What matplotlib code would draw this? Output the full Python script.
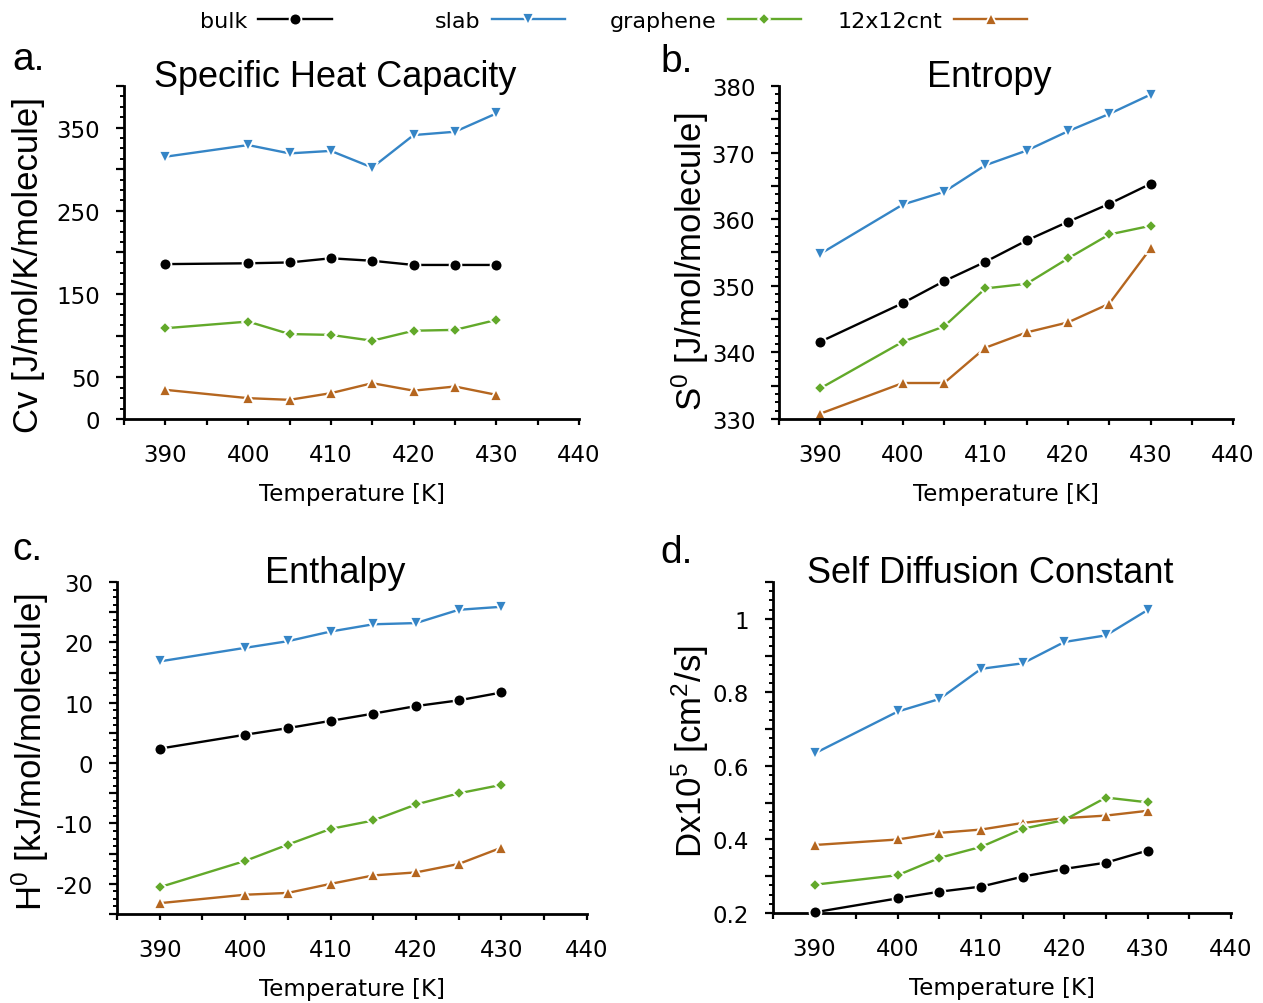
import matplotlib
matplotlib.use("Agg")
import matplotlib.pyplot as plt
from matplotlib.ticker import MultipleLocator, FuncFormatter

plt.rcParams["font.family"] = ["DejaVu Sans"]
plt.rcParams["axes.unicode_minus"] = False
plt.rcParams["mathtext.default"] = "regular"

# ---- data -------------------------------------------------------------
temperature = [390, 400, 405, 410, 415, 420, 425, 430]

cv_bulk = [186, 187, 188, 193, 190, 185, 185, 185]
cv_slab = [315, 329, 319, 322, 302, 341, 345, 367]
cv_graphene = [109, 117, 102, 101, 94, 106, 107, 119]
cv_cnt = [35, 25, 23, 31, 43, 34, 39, 29]

s_bulk = [341.6, 347.4, 350.7, 353.6, 356.8, 359.6, 362.3, 365.3]
s_slab = [354.8, 362.2, 364.1, 368.1, 370.3, 373.2, 375.8, 378.7]
s_graphene = [334.6, 341.6, 343.9, 349.6, 350.3, 354.1, 357.7, 359.0]
s_cnt = [330.8, 335.4, 335.4, 340.7, 343.0, 344.5, 347.3, 355.6]

h_bulk = [2.4, 4.7, 5.8, 7.0, 8.2, 9.45, 10.4, 11.7]
h_slab = [16.85, 19.1, 20.2, 21.8, 23.0, 23.2, 25.4, 25.9]
h_graphene = [-20.55, -16.2, -13.5, -10.9, -9.5, -6.85, -5.0, -3.6]
h_cnt = [-23.2, -21.8, -21.5, -20.0, -18.6, -18.1, -16.7, -14.0]

d_bulk = [0.202, 0.240, 0.258, 0.272, 0.299, 0.320, 0.337, 0.370]
d_slab = [0.634, 0.748, 0.782, 0.864, 0.879, 0.937, 0.955, 1.024]
d_graphene = [0.277, 0.303, 0.350, 0.380, 0.429, 0.453, 0.514, 0.501]
d_cnt = [0.385, 0.400, 0.418, 0.427, 0.445, 0.458, 0.465, 0.478]

series_names = ["bulk", "slab", "graphene", "12x12cnt"]
x_tick_labels = [390, 400, 410, 420, 430, 440]

# ---- styles -------------------------------------------------------------
styles = {
    "bulk": dict(color="#000000", marker="o", ms=8.5, zorder=3),
    "slab": dict(color="#3585c6", marker="v", ms=9, zorder=3),
    "graphene": dict(color="#62a92a", marker="D", ms=6.5, zorder=4),
    "12x12cnt": dict(color="#b5661f", marker="^", ms=9, zorder=2),
}
TITLE_FONT = "Liberation Sans"

fig = plt.figure(figsize=(12.63, 10.04), dpi=100)

# axes rectangles [left, bottom, width, height] in figure fractions
rects = {
    "a": [0.0982, 0.5817, 0.3603, 0.3317],
    "b": [0.6168, 0.5817, 0.3595, 0.3317],
    "c": [0.0926, 0.0886, 0.3721, 0.3307],
    "d": [0.6120, 0.0896, 0.3626, 0.3297],
}

panels = [
    dict(key="a", title="Specific Heat Capacity", tx=0.464,
         ylabel="Cv [J/mol/K/molecule]", ylx=-0.211, yly=0.465,
         data=[cv_bulk, cv_slab, cv_graphene, cv_cnt],
         ylim=(0, 400), major=50, minor=12.5,
         labelled=[0, 50, 150, 250, 350], fmt="{:.0f}"),
    dict(key="b", title="Entropy", tx=0.463,
         ylabel="S$^{0}$ [J/mol/molecule]", ylx=-0.196, yly=0.474,
         data=[s_bulk, s_slab, s_graphene, s_cnt],
         ylim=(330, 380), major=5, minor=1.25,
         labelled=[330, 340, 350, 360, 370, 380], fmt="{:.0f}"),
    dict(key="c", title="Enthalpy", tx=0.464,
         ylabel="H$^{0}$ [kJ/mol/molecule]", ylx=-0.185, yly=0.491,
         data=[h_bulk, h_slab, h_graphene, h_cnt],
         ylim=(-25, 30), major=5, minor=1.25,
         labelled=[-20, -10, 0, 10, 20, 30], fmt="{:.0f}"),
    dict(key="d", title="Self Diffusion Constant", tx=0.474,
         ylabel="Dx10$^{5}$ [cm$^{2}$/s]", ylx=-0.181, yly=0.49,
         data=[d_bulk, d_slab, d_graphene, d_cnt],
         ylim=(0.2, 1.1), major=0.1, minor=0.025,
         labelled=[0.2, 0.4, 0.6, 0.8, 1.0], fmt="{:g}"),
]


def label_only(values, fmt):
    def f(v, pos):
        for w in values:
            if abs(v - w) < 1e-6:
                return fmt.format(w)
        return ""
    return FuncFormatter(f)


handles = None
for p in panels:
    ax = fig.add_axes(rects[p["key"]])
    lines = []
    for name, ys in zip(series_names, p["data"]):
        st = styles[name]
        ln, = ax.plot(temperature, ys, color=st["color"], lw=1.7,
                      marker=st["marker"], ms=st["ms"],
                      mfc=st["color"], mec="white", mew=1.3,
                      zorder=st["zorder"], clip_on=False)
        lines.append(ln)
    if handles is None:
        handles = lines

    ax.set_xlim(385, 440)
    ax.set_ylim(*p["ylim"])
    for side in ("top", "right"):
        ax.spines[side].set_visible(False)
    for side in ("left", "bottom"):
        ax.spines[side].set_linewidth(2.0)

    ax.xaxis.set_major_locator(MultipleLocator(5))
    ax.xaxis.set_major_formatter(label_only(x_tick_labels, "{:.0f}"))
    ax.yaxis.set_major_locator(MultipleLocator(p["major"]))
    ax.yaxis.set_minor_locator(MultipleLocator(p["minor"]))
    ax.yaxis.set_major_formatter(label_only(p["labelled"], p["fmt"]))

    ax.tick_params(axis="x", which="major", length=4.5, width=1.6,
                   pad=13, labelsize=16.5)
    ax.tick_params(axis="y", which="major", length=6, width=1.6,
                   pad=11, labelsize=16.5)
    ax.tick_params(axis="y", which="minor", length=3, width=1.4)

    ax.set_xlabel("Temperature [K]", fontsize=16.5, labelpad=11)

    ax.text(p["tx"], 1.0, p["title"], transform=ax.transAxes,
            ha="center", va="baseline", fontsize=26, family=TITLE_FONT)
    ax.text(p["ylx"], p["yly"], p["ylabel"], transform=ax.transAxes,
            rotation=90, ha="center", va="center", fontsize=25,
            family=TITLE_FONT)

# panel letters
letters = [("a.", 12, 70), ("b.", 660, 72), ("c.", 12, 560), ("d.", 660, 563)]
for txt, px, py in letters:
    fig.text(px / 1263, 1 - py / 1004, txt, fontsize=28,
             family=TITLE_FONT, ha="left", va="baseline")

# legend: one entry per slot, label left of its handle
legend_x = [200, 435, 610, 838]
for h, name, lx in zip(handles, series_names, legend_x):
    fig.legend([h], [name], loc="center left",
               bbox_to_anchor=(lx / 1263, 1 - 22 / 1004),
               markerfirst=False, frameon=False, borderpad=0,
               borderaxespad=0, handlelength=3.3, handletextpad=0.5,
               numpoints=1, fontsize=16)

fig.savefig("out.png", dpi=100)
